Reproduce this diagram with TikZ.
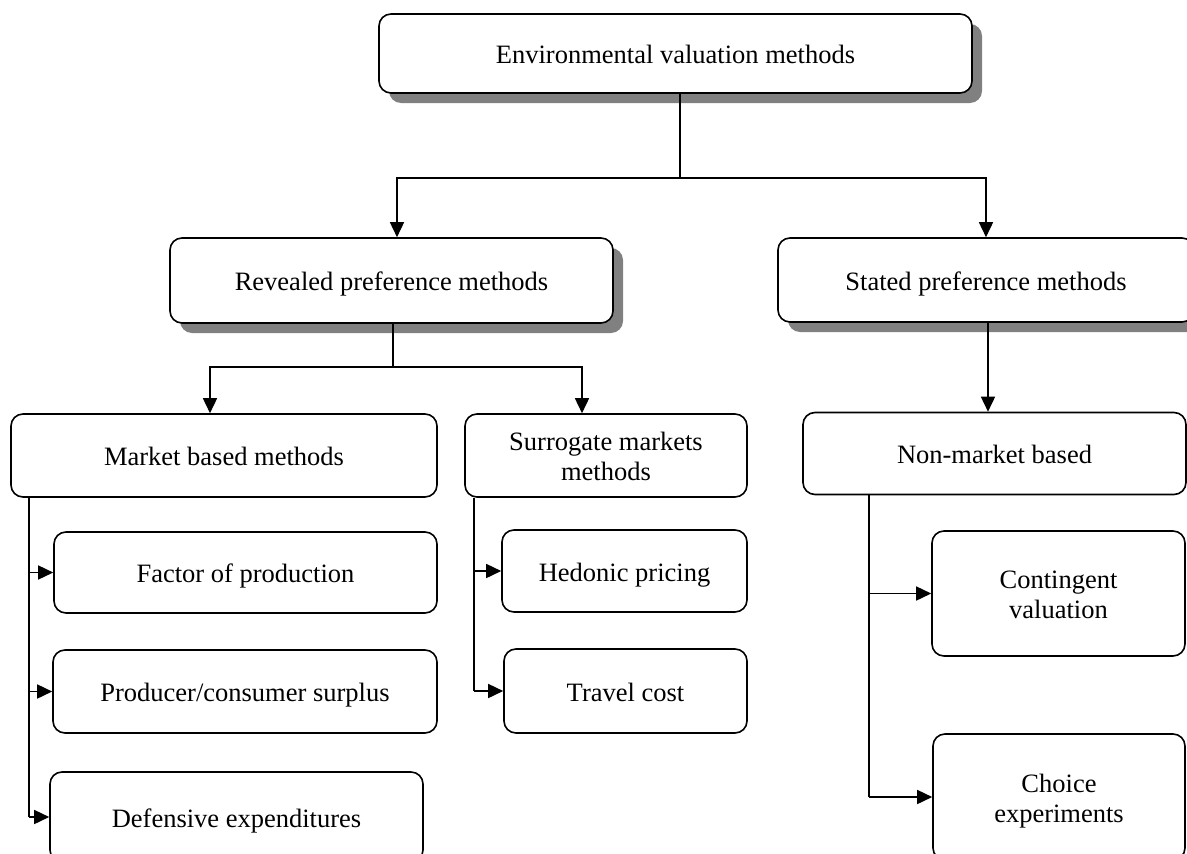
\documentclass[tikz,border=0pt]{standalone}
\usepackage{fontspec}
\setmainfont{Liberation Serif}
\usetikzlibrary{arrows.meta,shadows}
\definecolor{shadowgray}{HTML}{808080}
\begin{document}
\begin{tikzpicture}[x=1pt,y=-1pt,
  box/.style={draw=black, line width=1.6pt, rounded corners=12pt, fill=white,
    align=center, inner sep=0pt, text height=20pt, text depth=0pt,
    font=\fontsize{26.5}{30}\selectfont},
  twoline/.style={text height=50pt},
  shad/.style={drop shadow={shadow xshift=10pt, shadow yshift=-10pt, fill=shadowgray, opacity=1}},
  line/.style={draw=black, line width=1.6pt},
  arr/.style={line, -{Triangle[length=15pt,width=14pt]}}]
\useasboundingbox (0,0) rectangle (1187,854);
\clip (0,0) rectangle (1187,854);
% level 0
\node[box, shad, minimum width=593pt, minimum height=79pt] (env) at (675.5,53.5) {Environmental valuation methods};
% level 1
\node[box, shad, minimum width=443pt, minimum height=85pt] (rev) at (391.5,280.5) {Revealed preference methods};
\node[box, shad, minimum width=416pt, minimum height=84pt] (sta) at (986,280) {Stated preference methods};
% level 2
\node[box, minimum width=426pt, minimum height=83pt] (mkt) at (224,455.5) {Market based methods};
\node[box, twoline, minimum width=282pt, minimum height=83pt] (sur) at (606,455.5) {Surrogate markets\\methods};
\node[box, minimum width=383pt, minimum height=82pt] (nm) at (994.5,453.5) {Non-market based};
% level 3
\node[box, minimum width=383pt, minimum height=81pt] (fac) at (245.5,572.5) {Factor of production};
\node[box, minimum width=384pt, minimum height=83pt] (pro) at (245,691.5) {Producer/consumer surplus};
\node[box, minimum width=373pt, minimum height=90pt] (def) at (236.5,817) {Defensive expenditures};
\node[box, minimum width=245pt, minimum height=82pt] (hed) at (624.5,571) {Hedonic pricing};
\node[box, minimum width=243pt, minimum height=84pt] (tra) at (625.5,691) {Travel cost};
\node[box, twoline, minimum width=253pt, minimum height=125pt] (con) at (1058.5,593.5) {Contingent\\valuation};
\node[box, twoline, minimum width=252pt, minimum height=126pt] (cho) at (1059,797) {Choice\\experiments};
% connectors level 0 -> 1
\coordinate (j1) at (680,178);
\draw[line] ([xshift=4.5pt]env.south) -- (j1);
\draw[arr] (j1) -| ([xshift=5.5pt]rev.north);
\draw[arr] (j1) -| (sta.north);
% revealed -> market / surrogate
\coordinate (j2) at (393,367);
\draw[line] ([xshift=1.5pt]rev.south) -- (j2);
\draw[arr] (j2) -| ([xshift=-14pt]mkt.north);
\draw[arr] (j2) -| ([xshift=-24pt]sur.north);
% stated -> non-market
\draw[arr] ([xshift=2pt]sta.south) -- ([xshift=2pt]sta.south |- nm.north);
% market bus
\coordinate (b1) at (29,0);
\draw[line] (mkt.south -| b1) -- (b1 |- def.west);
\draw[arr] (b1 |- fac.west) -- (fac.west);
\draw[arr] (b1 |- pro.west) -- (pro.west);
\draw[arr] (b1 |- def.west) -- (def.west);
% surrogate bus
\coordinate (b2) at (474,0);
\draw[line] (sur.south -| b2) -- (b2 |- tra.west);
\draw[arr] (b2 |- hed.west) -- (hed.west);
\draw[arr] (b2 |- tra.west) -- (tra.west);
% non-market bus
\coordinate (b3) at (869,0);
\draw[line] (nm.south -| b3) -- (b3 |- cho.west);
\draw[arr] (b3 |- con.west) -- (con.west);
\draw[arr] (b3 |- cho.west) -- (cho.west);
\end{tikzpicture}
\end{document}
